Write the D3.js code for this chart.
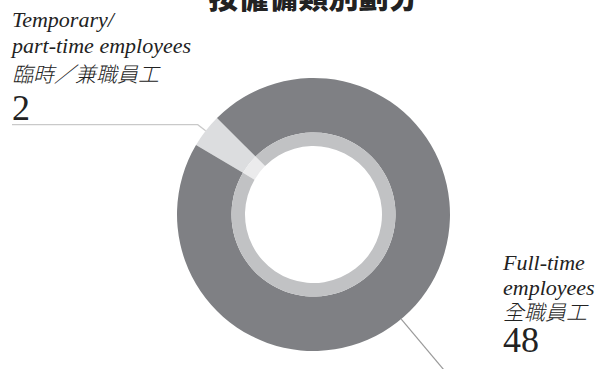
<!DOCTYPE html>
<html>
<head>
<meta charset="utf-8">
<script src="https://cdn.jsdelivr.net/npm/d3@7"></script>
<style>
body { margin: 0; background: #fff; }
.en { font-family: "Liberation Serif", "DejaVu Serif", serif; font-style: italic; font-size: 22px; fill: #222; }
.zh { font-family: "Noto Sans CJK TC", sans-serif; font-style: italic; font-weight: 300; font-size: 21px; fill: #222; }
.num { font-family: "Liberation Serif", "DejaVu Serif", serif; font-size: 36px; fill: #222; }
.title { font-family: "Noto Sans CJK TC", sans-serif; font-weight: 900; font-size: 30px; fill: #222; }
</style>
</head>
<body>
<svg id="chart" width="606" height="369"></svg>
<script>
"use strict";

// Chart data
var title = "按僱傭類別劃分";
var categories = ["temporary", "fulltime"];
var labelEn = [["Temporary/", "part-time employees"], ["Full-time", "employees"]];
var labelZh = ["臨時／兼職員工", "全職員工"];
var counts = [2, 48];

// Layout
var cx = 313.5, cy = 214.5;
var outerR = 136.5, ringR = 82, holeR = 68.5;
var startDeg = -59.4;
var outerColours = {temporary: "#dcdddf", fulltime: "#7f8084"};
var innerColours = {temporary: "#ebebec", fulltime: "#c1c2c4"};

var svg = d3.select("#chart");

var data = categories.map(function(c, i) {
	return {key: c, value: counts[i], en: labelEn[i], zh: labelZh[i]};
});

var pie = d3.pie()
	.sort(null)
	.value(function(d) { return d.value; })
	.startAngle(startDeg * Math.PI / 180)
	.endAngle(startDeg * Math.PI / 180 + 2 * Math.PI);
var arcs = pie(data);

var outerArc = d3.arc().innerRadius(ringR).outerRadius(outerR);
var innerArc = d3.arc().innerRadius(holeR).outerRadius(ringR);

var g = svg.append("g").attr("transform", "translate(" + cx + "," + cy + ")");

g.selectAll("path.outer")
	.data(arcs)
	.enter()
	.append("path")
	.attr("class", "outer")
	.attr("fill", function(d) { return outerColours[d.data.key]; })
	.attr("d", outerArc);

g.selectAll("path.inner")
	.data(arcs)
	.enter()
	.append("path")
	.attr("class", "inner")
	.attr("fill", function(d) { return innerColours[d.data.key]; })
	.attr("d", innerArc);

// point on a circle, d3 angle convention (0 = 12 o'clock, clockwise)
function polar(r, a) {
	return [r * Math.sin(a), -r * Math.cos(a)];
}

// Leader line for the small slice: out radially a bit, then left to the label
var tmp = arcs[0];
var tmpMid = (tmp.startAngle + tmp.endAngle) / 2;
var p0 = polar(outerR, tmpMid), p1 = polar(outerR + 10, tmpMid);
g.append("path")
	.attr("fill", "none")
	.attr("stroke", "#c9c9c9")
	.attr("stroke-width", 1.2)
	.attr("d", d3.line()([p0, p1, [12 - cx, p1[1]]]));

// Leader line for the big slice: radial, runs off the bottom edge
var fullAngle = 140 * Math.PI / 180;
g.append("path")
	.attr("fill", "none")
	.attr("stroke", "#9a9a9a")
	.attr("stroke-width", 1.2)
	.attr("d", d3.line()([polar(outerR, fullAngle), polar(outerR + 90, fullAngle)]));

// Labels
function drawLabel(d, x, ys) {
	var lab = svg.append("g");
	d.en.forEach(function(t, i) {
		lab.append("text").attr("class", "en").attr("x", x).attr("y", ys[i]).text(t);
	});
	lab.append("text").attr("class", "zh").attr("x", x).attr("y", ys[2]).text(d.zh);
	lab.append("text").attr("class", "num").attr("x", x).attr("y", ys[3]).text(d.value);
}
drawLabel(data[0], 12, [27, 53, 82, 120]);
drawLabel(data[1], 503, [270, 295, 320, 352]);

// Title, cut off by the top edge in the source
svg.append("text")
	.attr("class", "title")
	.attr("x", cx)
	.attr("y", 7.5)
	.attr("text-anchor", "middle")
	.text(title);
</script>
</body>
</html>
